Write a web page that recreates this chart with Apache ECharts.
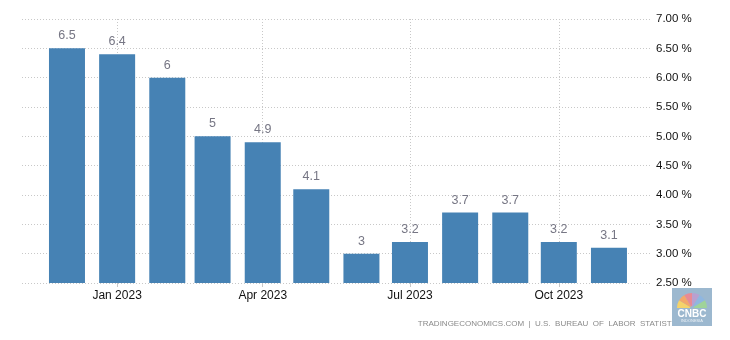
<!DOCTYPE html>
<html>
<head>
<meta charset="utf-8">
<script src="https://cdn.jsdelivr.net/npm/echarts@6/dist/echarts.min.js"></script>
<style>
  html, body { margin: 0; padding: 0; background: #fff; }
  #chart { width: 730px; height: 340px; }
</style>
</head>
<body>
<div id="chart"></div>
<script>
// US inflation rate, year over year (%)
const months = ['2022-12-01', '2023-01-01', '2023-02-01', '2023-03-01', '2023-04-01', '2023-05-01',
                '2023-06-01', '2023-07-01', '2023-08-01', '2023-09-01', '2023-10-01', '2023-11-01'];
const rates = [6.5, 6.4, 6, 5, 4.9, 4.1, 3, 3.2, 3.7, 3.7, 3.2, 3.1];
const tickMonths = ['2023-01-01', '2023-04-01', '2023-07-01', '2023-10-01'];
const monthNames = ['Jan', 'Feb', 'Mar', 'Apr', 'May', 'Jun', 'Jul', 'Aug', 'Sep', 'Oct', 'Nov', 'Dec'];
const yTicks = { min: 2.5, max: 7, step: 0.5 };
const sourceText = 'TRADINGECONOMICS.COM  |  U.S.  BUREAU  OF  LABOR  STATISTICS';

// x positions are days since 1970-01-01 (UTC), so bar spacing follows month lengths
const DAY = 24 * 3600 * 1000;
const toDay = s => Date.parse(s + 'T00:00:00Z') / DAY;
const tickDays = tickMonths.map(toDay);

const chart = echarts.init(document.getElementById('chart'), null, { renderer: 'canvas' });
const font = 'Liberation Sans, Arial, sans-serif';

chart.setOption({
  animation: false,
  grid: { left: 22, right: 78, top: 19, bottom: 57 },
  xAxis: {
    type: 'value',
    min: toDay(months[0]) - 27.8,
    max: toDay(months[months.length - 1]) + 26.6,
    axisLine: { show: false },
    axisTick: {
      show: true, length: 4, customValues: tickDays,
      lineStyle: { color: '#c8c8c8' }
    },
    splitLine: {
      show: true,
      lineStyle: { color: '#c8c8c8', type: [1, 2], width: 1 }
    },
    axisLabel: {
      customValues: tickDays,
      margin: 7,
      color: '#111',
      fontFamily: font,
      fontSize: 12,
      formatter: v => {
        const d = new Date(Math.round(v) * DAY);
        return monthNames[d.getUTCMonth()] + ' ' + d.getUTCFullYear();
      }
    }
  },
  yAxis: {
    type: 'value',
    position: 'right',
    min: yTicks.min,
    max: yTicks.max,
    interval: yTicks.step,
    axisLine: { show: false },
    axisTick: { show: false },
    splitLine: { lineStyle: { color: '#c8c8c8', type: [1, 2], width: 1 } },
    axisLabel: {
      margin: 4,
      color: '#111',
      fontFamily: font,
      fontSize: 11.5,
      formatter: v => v.toFixed(2) + ' %'
    }
  },
  series: [{
    type: 'bar',
    barWidth: 36,
    data: months.map((m, i) => [toDay(m), rates[i]]),
    itemStyle: { color: '#4682b4' },
    label: {
      show: true,
      position: 'top',
      distance: 6,
      color: '#767684',
      fontFamily: font,
      fontSize: 12.5,
      formatter: p => String(p.value[1])
    }
  }],
  graphic: [
    {
      type: 'text', right: 45, top: 320,
      style: { text: sourceText, fill: '#8a8a8a', font: '8px ' + font }
    },
    {
      type: 'group', left: 672, top: 288,
      children: [
        { type: 'rect', shape: { x: 0, y: 0, width: 40, height: 38 }, style: { fill: '#9cb8cf' } },
        { type: 'sector', shape: { cx: 20, cy: 20, r0: 2, r: 15, startAngle: Math.PI * 1.0, endAngle: Math.PI * 1.17 }, style: { fill: '#f5d36a' } },
        { type: 'sector', shape: { cx: 20, cy: 20, r0: 2, r: 15, startAngle: Math.PI * 1.17, endAngle: Math.PI * 1.33 }, style: { fill: '#f3a86a' } },
        { type: 'sector', shape: { cx: 20, cy: 20, r0: 2, r: 15, startAngle: Math.PI * 1.33, endAngle: Math.PI * 1.5 }, style: { fill: '#e88a95' } },
        { type: 'sector', shape: { cx: 20, cy: 20, r0: 2, r: 15, startAngle: Math.PI * 1.5, endAngle: Math.PI * 1.67 }, style: { fill: '#b9a0cf' } },
        { type: 'sector', shape: { cx: 20, cy: 20, r0: 2, r: 15, startAngle: Math.PI * 1.67, endAngle: Math.PI * 1.83 }, style: { fill: '#8fb6e0' } },
        { type: 'sector', shape: { cx: 20, cy: 20, r0: 2, r: 15, startAngle: Math.PI * 1.83, endAngle: Math.PI * 2.0 }, style: { fill: '#9fd39a' } },
        { type: 'text', x: 20, y: 21, style: { text: 'CNBC', fill: '#ffffff', font: 'bold 10px ' + font, align: 'center' } },
        { type: 'text', x: 20, y: 31, style: { text: 'INDONESIA', fill: '#eef3f7', font: '4px ' + font, align: 'center' } }
      ]
    }
  ]
});
</script>
</body>
</html>
